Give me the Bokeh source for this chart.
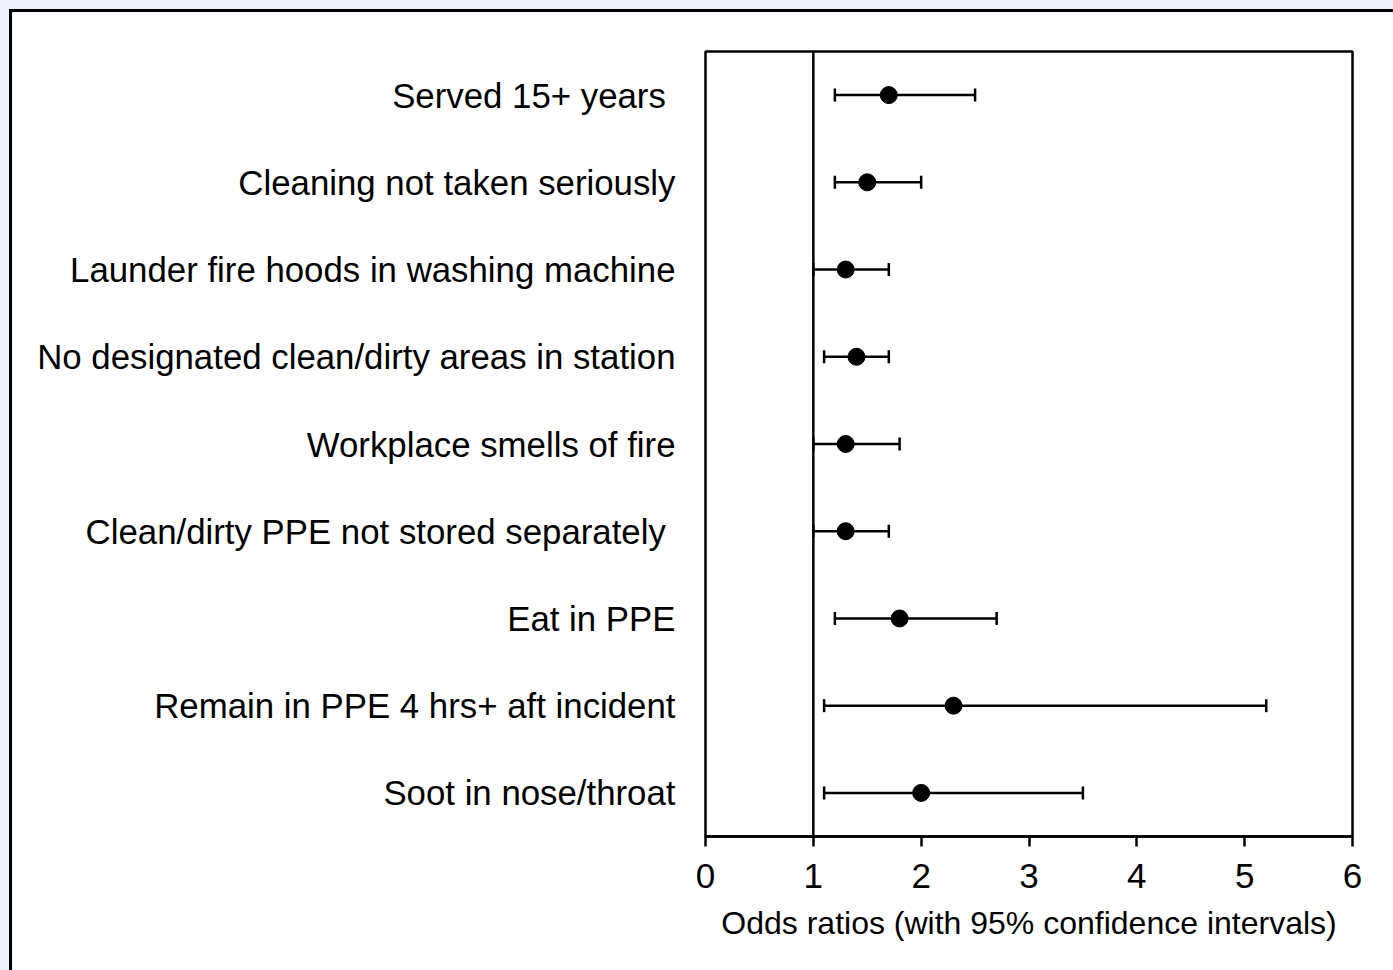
from bokeh.plotting import figure
from bokeh.models import Span, Whisker, ColumnDataSource, TeeHead, FixedTicker
from bokeh.embed import file_html
from bokeh.resources import INLINE

categories = [
    "Served 15+ years ",
    "Cleaning not taken seriously",
    "Launder fire hoods in washing machine",
    "No designated clean/dirty areas in station",
    "Workplace smells of fire",
    "Clean/dirty PPE not stored separately ",
    "Eat in PPE",
    "Remain in PPE 4 hrs+ aft incident",
    "Soot in nose/throat",
]
odds = [1.7, 1.5, 1.3, 1.4, 1.3, 1.3, 1.8, 2.3, 2.0]
ci_low = [1.2, 1.2, 1.0, 1.1, 1.0, 1.0, 1.2, 1.1, 1.1]
ci_high = [2.5, 2.0, 1.7, 1.7, 1.8, 1.7, 2.7, 5.2, 3.5]
x_ticks = [0, 1, 2, 3, 4, 5, 6]
x_title = "Odds ratios (with 95% confidence intervals)"

FONT = "Liberation Sans"

src = ColumnDataSource(data=dict(cat=categories, odds=odds, lo=ci_low, hi=ci_high))

p = figure(
    y_range=list(reversed(categories)),
    x_range=(0, 6),
    frame_width=647, frame_height=785,
    min_border_left=693, min_border_top=39, min_border_right=60, min_border_bottom=150,
    output_backend="svg", toolbar_location=None,
    background_fill_color="white", border_fill_color="white",
)
p.styles = {"border": "3px solid black"}
p.outline_line_color = "black"
p.outline_line_width = 2.5
p.xgrid.visible = False
p.ygrid.visible = False

# x axis
p.xaxis.ticker = FixedTicker(ticks=x_ticks)
p.xaxis.axis_line_width = 2.5
p.xaxis.axis_line_color = "black"
p.xaxis.major_tick_line_width = 2.5
p.xaxis.major_tick_line_color = "black"
p.xaxis.major_tick_out = 10
p.xaxis.major_tick_in = 0
p.xaxis.minor_tick_line_color = None
p.xaxis.major_label_text_font = FONT
p.xaxis.major_label_text_font_size = "35px"
p.xaxis.major_label_text_color = "black"
p.xaxis.major_label_standoff = 17
p.xaxis.axis_label = x_title
p.xaxis.axis_label_text_font = FONT
p.xaxis.axis_label_text_font_size = "32px"
p.xaxis.axis_label_text_font_style = "normal"
p.xaxis.axis_label_text_color = "black"
p.xaxis.axis_label_standoff = 14

# y axis
p.yaxis.axis_line_color = None
p.yaxis.major_tick_line_color = None
p.yaxis.minor_tick_line_color = None
p.yaxis.major_label_text_font = FONT
p.yaxis.major_label_text_font_size = "34.8px"
p.yaxis.major_label_text_color = "black"
p.yaxis.major_label_standoff = 24

p.add_layout(Span(location=1, dimension="height", line_color="black", line_width=2.5))

w = Whisker(source=src, base="cat", lower="lo", upper="hi", dimension="width",
            line_color="black", line_width=2.5,
            lower_head=TeeHead(size=13, line_color="black", line_width=2.5),
            upper_head=TeeHead(size=13, line_color="black", line_width=2.5))
p.add_layout(w)

p.scatter(x="odds", y="cat", source=src, size=17, marker="circle",
          fill_color="black", line_color="black")

html = file_html(p, INLINE)
extra = ("<style>html{background:#eef0fc !important;}"
         "body{margin:0 !important;padding:9px !important;"
         "background:#eef0fc !important;}</style>")
html = html.replace("</head>", extra + "</head>", 1)
open("out.html", "w").write(html)
